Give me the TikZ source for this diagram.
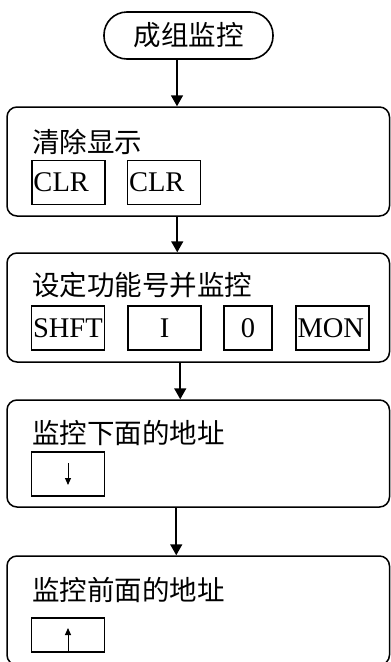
\documentclass[tikz,border=0pt]{standalone}
\usepackage{fontspec}
\setmainfont{Liberation Serif}
\newfontfamily\cjk{Noto Sans CJK SC}
\usetikzlibrary{arrows.meta}

\tikzset{
  stepbox/.style={draw, line width=1.5pt, rounded corners=10pt,
    minimum width=382.5pt, minimum height=109pt},
  steptitle/.style={anchor=west, inner sep=0pt,
    font=\cjk\fontsize{27.5}{30}\selectfont},
  keybox/.style={draw, line width=1.5pt, minimum height=44pt, text width=70pt,
    inner xsep=1.5pt, inner ysep=0pt, align=left,
    font=\fontsize{28.5}{30}\selectfont},
  flow/.style={-{Triangle[length=11pt,width=12pt]}, line width=1.6pt},
  tick/.style={-{Triangle[length=7pt,width=6pt]}, line width=1pt}
}

\begin{document}
\begin{tikzpicture}[x=1pt, y=-1pt]
  \useasboundingbox (0,0) rectangle (391,662);

  % start
  \node[draw, line width=1.6pt, rounded corners=23pt, minimum width=169pt,
    minimum height=47pt, font=\cjk\fontsize{27.5}{30}\selectfont]
    (start) at (188.5,35.5) {成组监控};

  % clear display
  \node[stepbox] (clear) at (198.25,161.5) {};
  \node[steptitle] (clearT) at (32,142) {清除显示};
  \node[keybox] (clrA) at (68.5,182.5) {CLR};
  \node[keybox] (clrB) at (164,182.5) {CLR};

  % set function number
  \node[stepbox] (setfn) at (198.25,307.5) {};
  \node[steptitle] (setfnT) at (32,285) {设定功能号并监控};
  \node[keybox] (shft) at (68,328) {SHFT};
  \node[keybox, align=center] (keyI) at (164.5,328) {I};
  \node[keybox, text width=45pt, align=center] (keyZero) at (248,328) {0};
  \node[keybox] (mon) at (332.5,328) {MON};

  % next address
  \node[stepbox, minimum height=107pt] (next) at (198.25,453.5) {};
  \node[steptitle] (nextT) at (32,433) {监控下面的地址};
  \node[keybox] (down) at (68,474) {};
  \draw[tick] ([yshift=11pt]down.center) -- ([yshift=-11pt]down.center);

  % previous address
  \node[stepbox] (prev) at (198.25,610.5) {};
  \node[steptitle] (prevT) at (32,590) {监控前面的地址};
  \node[keybox, minimum height=34pt] (up) at (68,635) {};
  \draw[tick] (up.south) -- ([yshift=7pt]up.center);

  % connectors
  \draw[flow] ([xshift=-11.5pt]start.south) -- ([xshift=-11.5pt]start.south |- clear.north);
  \draw[flow] ([xshift=-21pt]clear.south) -- ([xshift=-21pt]clear.south |- setfn.north);
  \draw[flow] ([xshift=-18pt]setfn.south) -- ([xshift=-18pt]setfn.south |- next.north);
  \draw[flow] ([xshift=-22pt]next.south) -- ([xshift=-22pt]next.south |- prev.north);
\end{tikzpicture}
\end{document}
